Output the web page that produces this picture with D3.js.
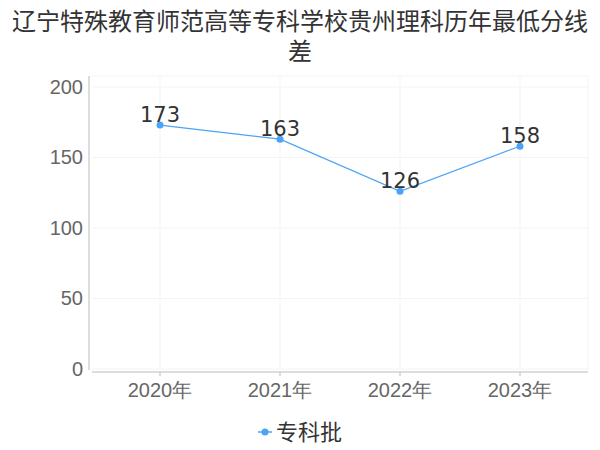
<!DOCTYPE html>
<html><head><meta charset="utf-8">
<script src="https://cdn.jsdelivr.net/npm/d3@7"></script>
<style>body{margin:0;background:#fff;}svg{display:block;font-family:"DejaVu Sans","Noto Sans CJK SC",sans-serif;}</style>
</head><body><svg id="c" width="600" height="450"></svg>
<script>
const titleLines = ["辽宁特殊教育师范高等专科学校贵州理科历年最低分线", "差"];
const categories = ["2020年", "2021年", "2022年", "2023年"];
const values = [173, 163, 126, 158];
const yTicks = [0, 50, 100, 150, 200];
const seriesName = "专科批";
const color = "#4ba3f5";

const svg = d3.select("#c");
const x = d3.scaleBand().domain(categories).range([100, 580]);
const y = d3.scaleLinear().domain([0, 200]).range([369, 87]);
const cx = d => x(d) + x.bandwidth() / 2;

svg.selectAll("text.title").data(titleLines).enter().append("text")
  .attr("x", 300).attr("y", (d, i) => 30 + i * 30)
  .attr("text-anchor", "middle").attr("font-size", 24).attr("fill", "#333").text(d => d);

// grid
const g = svg.append("g");
g.selectAll("line.hg").data(yTicks).enter().append("line")
  .attr("x1", 92).attr("x2", 588).attr("y1", d => y(d)).attr("y2", d => y(d))
  .attr("stroke", "#f3f3f3");
g.selectAll("line.vg").data(categories).enter().append("line")
  .attr("x1", d => cx(d)).attr("x2", d => cx(d)).attr("y1", 76).attr("y2", 370)
  .attr("stroke", "#f3f3f3");
g.append("line").attr("x1", 588).attr("x2", 588).attr("y1", 76).attr("y2", 370).attr("stroke", "#f3f3f3");
g.append("line").attr("x1", 92).attr("x2", 588).attr("y1", 76).attr("y2", 76).attr("stroke", "#f3f3f3");

// y axis
const yAxis = svg.append("g").attr("transform", "translate(89,0)")
  .call(d3.axisLeft(y).tickValues(yTicks).tickSize(0).tickPadding(6));
yAxis.select(".domain").attr("stroke", "#bbb").attr("d", "M0,76V370");
yAxis.selectAll("text").attr("font-size", 20).attr("fill", "#666").attr("font-family", "inherit");

// x axis
const xAxis = svg.append("g").attr("transform", "translate(0,372)")
  .call(d3.axisBottom(x).tickSize(4).tickPadding(7));
xAxis.select(".domain").attr("stroke", "#bbb").attr("d", "M92,0H588");
xAxis.selectAll(".tick line").attr("stroke", "#bbb");
xAxis.selectAll("text").attr("font-size", 20).attr("fill", "#666").attr("font-family", "inherit");

// line
const line = d3.line().x((d, i) => cx(categories[i])).y(d => y(d));
svg.append("path").datum(values).attr("d", line).attr("fill", "none").attr("stroke", color).attr("stroke-width", 1.2);
svg.selectAll("circle.p").data(values).enter().append("circle")
  .attr("cx", (d, i) => cx(categories[i])).attr("cy", d => y(d)).attr("r", 3.5).attr("fill", color);
svg.selectAll("text.lbl").data(values).enter().append("text")
  .attr("x", (d, i) => cx(categories[i])).attr("y", d => y(d) - 3)
  .attr("text-anchor", "middle").attr("font-size", 21).attr("fill", "#333").text(d => d);

// legend
const lg = svg.append("g").attr("transform", "translate(0,432)");
lg.append("line").attr("x1", 258).attr("x2", 272).attr("y1", 0).attr("y2", 0).attr("stroke", color).attr("stroke-width", 1.5);
lg.append("circle").attr("cx", 265).attr("cy", 0).attr("r", 3.5).attr("fill", color);
lg.append("text").attr("x", 276).attr("y", 0).attr("dy", "0.35em").attr("font-size", 22).attr("fill", "#333").text(seriesName);
</script></body></html>
